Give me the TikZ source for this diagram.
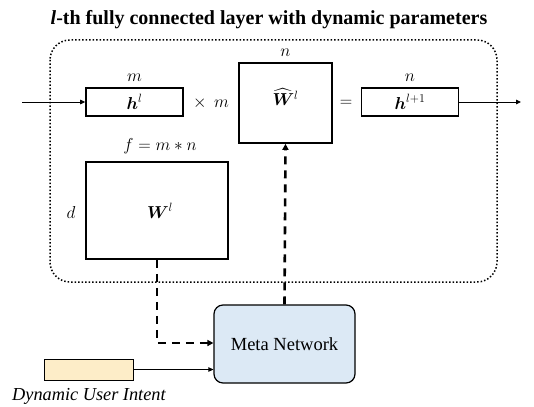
\documentclass[tikz,border=0pt]{standalone}
\usepackage{amsmath}
\usepackage{fontspec}
\setmainfont{Liberation Serif}
\usetikzlibrary{arrows.meta}
\definecolor{metablue}{HTML}{DCE9F5}
\definecolor{intentyellow}{HTML}{FDEDC8}
\begin{document}
\begin{tikzpicture}[x=1pt,y=-1pt,
  vec/.style={draw,line width=1.6pt,minimum width=97pt,minimum height=28pt,inner sep=0pt,
              font=\fontsize{17}{17}\selectfont},
  mat/.style={draw,line width=1.6pt,inner sep=0pt,font=\fontsize{17}{17}\selectfont},
  dim/.style={font=\fontsize{17}{17}\selectfont,inner sep=0pt},
  flow/.style={line width=0.9pt,-{Triangle[length=5pt,width=4.5pt]}},
  param/.style={line width=2.6pt,dash pattern=on 8pt off 6pt,-{Triangle[length=6pt,width=6pt]}}]
\useasboundingbox (0,0) rectangle (534,406);

% title
\node[font=\bfseries\fontsize{20}{20}\selectfont] (title) at (269,20) {\textit{l}-th fully connected layer with dynamic parameters};

% dotted frame of the layer
\draw[line width=1.5pt,dotted,rounded corners=20pt] (50,40) rectangle (497,282);

% vectors and matrices
\node[vec] (h) at (134.5,102) {$\boldsymbol{h}^{l}$};
\node[dim] (hm) at (134.5,78) {$m$};
\node[mat,minimum width=93pt,minimum height=80pt] (What) at (285.5,103)
  {\raisebox{12pt}{$\widehat{\boldsymbol{W}}{}^{l}$}};
\node[dim] (Wn) at (285.5,53) {$n$};
\node[dim] (times) at (211,103) {$\times\;\, m$};
\node[dim] (eq) at (346,103) {$=$};
\node[vec] (h1) at (410,102) {$\boldsymbol{h}^{l+1}$};
\node[dim] (h1n) at (410,78) {$n$};
\node[mat,minimum width=142pt,minimum height=97pt] (W) at (157,210.5)
  {\hspace*{6pt}\raisebox{-3pt}{$\boldsymbol{W}^{l}$}};
\node[dim] (f) at (160,146) {$f = m * n$};
\node[dim] (d) at (71,212) {$d$};

% meta network and its input
\node[draw,line width=1.2pt,fill=metablue,rounded corners=9pt,minimum width=141pt,minimum height=78pt,
      font=\fontsize{18.5}{18.5}\selectfont] (meta) at (284.5,344) {Meta Network};
\node[draw,line width=0.8pt,fill=intentyellow,minimum width=89pt,minimum height=21pt,inner sep=0pt] (intent) at (88.5,369.5) {};
\node[font=\itshape\fontsize{18.3}{18.3}\selectfont,anchor=west,inner sep=0pt] (intentlabel) at (12,396) {Dynamic User Intent};

% connectors
\coordinate (in) at (22,102);
\coordinate (out) at (521,102);
\draw[flow] (in) -- (h.west);
\draw[flow] (h1.east) -- (out);
\draw[flow] (intent.east) -- (intent.east -| meta.west);
\draw[param] (W.south) |- ([yshift=1pt]meta.west);
\draw[param] (meta.north) -- (What.south);
\end{tikzpicture}
\end{document}
